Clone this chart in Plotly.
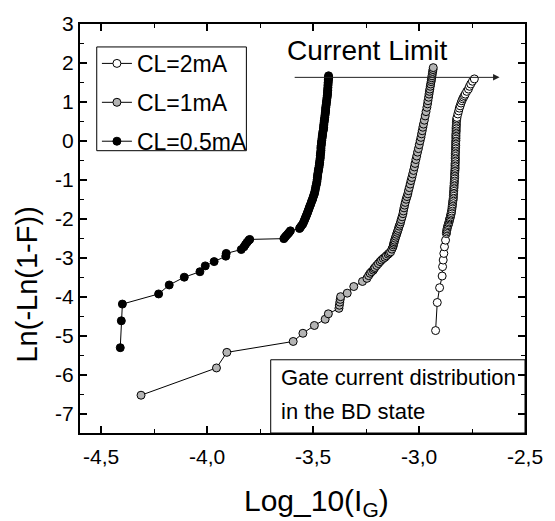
import plotly.graph_objects as go

# CL = 2 mA (open circles)
x_2ma = [-2.922, -2.914, -2.903, -2.891, -2.889, -2.886, -2.883, -2.880, -2.875,
         -2.871, -2.870, -2.869, -2.868, -2.866, -2.864, -2.862, -2.860, -2.858,
         -2.857, -2.855, -2.854, -2.852, -2.851, -2.849, -2.848, -2.846, -2.845,
         -2.844, -2.843, -2.842, -2.841, -2.840, -2.839, -2.838, -2.838, -2.837,
         -2.837, -2.836, -2.836, -2.835, -2.835, -2.834, -2.834, -2.833, -2.833,
         -2.832, -2.832, -2.832, -2.831, -2.831, -2.830, -2.830, -2.830, -2.830,
         -2.829, -2.829, -2.829, -2.829, -2.829, -2.829, -2.828, -2.828, -2.828,
         -2.827, -2.827, -2.827, -2.827, -2.826, -2.826, -2.826, -2.826, -2.826,
         -2.825, -2.825, -2.825, -2.825, -2.824, -2.824, -2.824, -2.823, -2.822,
         -2.821, -2.817, -2.813, -2.810, -2.806, -2.802, -2.798, -2.794, -2.790,
         -2.786, -2.782, -2.775, -2.767, -2.762, -2.756, -2.748, -2.739]
y_2ma = [-4.87, -4.15, -3.77, -3.47, -3.23, -3.06, -2.89, -2.72, -2.55,
         -2.38, -2.34, -2.30, -2.26, -2.22, -2.18, -2.15, -2.11, -2.08,
         -2.04, -2.01, -1.98, -1.95, -1.91, -1.88, -1.84, -1.80, -1.75,
         -1.70, -1.66, -1.62, -1.57, -1.53, -1.49, -1.45, -1.40, -1.36,
         -1.32, -1.28, -1.23, -1.19, -1.15, -1.10, -1.06, -1.02, -0.98,
         -0.94, -0.89, -0.85, -0.80, -0.76, -0.72, -0.68, -0.63, -0.59,
         -0.55, -0.50, -0.46, -0.42, -0.37, -0.33, -0.29, -0.25, -0.20,
         -0.16, -0.12, -0.08, -0.03, 0.01, 0.06, 0.10, 0.14, 0.18,
         0.23, 0.27, 0.31, 0.35, 0.39, 0.43, 0.48, 0.52, 0.56,
         0.60, 0.69, 0.77, 0.84, 0.90, 0.97, 1.03, 1.08, 1.12,
         1.16, 1.20, 1.27, 1.33, 1.40, 1.46, 1.53, 1.59]

# CL = 1 mA (grey circles)
x_1ma = [-4.312, -3.956, -3.907, -3.594, -3.548, -3.494, -3.443, -3.428, -3.378,
         -3.376, -3.374, -3.372, -3.370, -3.339, -3.308, -3.267, -3.246, -3.238,
         -3.231, -3.224, -3.216, -3.212, -3.208, -3.200, -3.192, -3.184, -3.177,
         -3.169, -3.161, -3.154, -3.146, -3.140, -3.134, -3.128, -3.123, -3.121,
         -3.119, -3.117,
         -3.115, -3.112, -3.109, -3.106, -3.103, -3.100, -3.097, -3.094, -3.090,
         -3.087, -3.084, -3.080, -3.076, -3.074, -3.071, -3.068, -3.065, -3.061,
         -3.057, -3.053, -3.050, -3.046, -3.042, -3.038, -3.034, -3.030, -3.026,
         -3.022, -3.019, -3.015, -3.011, -3.007, -3.003, -2.999, -2.995, -2.991,
         -2.988, -2.985, -2.982, -2.979, -2.975, -2.971, -2.967, -2.963, -2.960,
         -2.958, -2.955, -2.953, -2.951, -2.949, -2.947, -2.945, -2.943, -2.942,
         -2.940, -2.939, -2.937, -2.936, -2.934, -2.933]
y_1ma = [-6.53, -5.83, -5.43, -5.15, -4.94, -4.74, -4.58, -4.44, -4.30,
         -4.22, -4.14, -4.07, -4.00, -3.91, -3.74, -3.61, -3.53, -3.46,
         -3.40, -3.36, -3.32, -3.28, -3.25, -3.20, -3.15, -3.10, -3.06,
         -3.02, -2.99, -2.95, -2.91, -2.88, -2.85, -2.78, -2.72, -2.67,
         -2.63, -2.59,
         -2.55, -2.50, -2.45, -2.40, -2.35, -2.30, -2.25, -2.19, -2.14,
         -2.08, -2.02, -1.95, -1.87, -1.80, -1.72, -1.65, -1.58, -1.50,
         -1.43, -1.36, -1.28, -1.20, -1.11, -1.02, -0.94, -0.85, -0.76,
         -0.67, -0.58, -0.48, -0.39, -0.29, -0.20, -0.10, 0.00, 0.09,
         0.18, 0.26, 0.35, 0.43, 0.53, 0.64, 0.75, 0.86, 0.95,
         1.03, 1.12, 1.20, 1.27, 1.33, 1.40, 1.46, 1.52, 1.57,
         1.62, 1.67, 1.73, 1.78, 1.83, 1.88]

# CL = 0.5 mA (filled circles)
x_05ma = [-4.410, -4.405, -4.400, -4.229, -4.179, -4.108, -4.034, -4.009, -3.967,
          -3.912, -3.910, -3.839, -3.826, -3.819, -3.811, -3.803, -3.799,
          -3.638, -3.632, -3.626, -3.619, -3.613, -3.607,
          -3.564, -3.560, -3.555, -3.549, -3.545, -3.541, -3.538, -3.535, -3.532,
          -3.529, -3.526, -3.523, -3.520, -3.517, -3.514, -3.511, -3.508, -3.505,
          -3.502, -3.500, -3.497, -3.494, -3.492, -3.490, -3.488, -3.486, -3.484,
          -3.482, -3.481, -3.480, -3.479, -3.478, -3.476, -3.475, -3.474, -3.472,
          -3.471, -3.470, -3.469, -3.468, -3.467, -3.466, -3.466, -3.465, -3.464,
          -3.463, -3.463, -3.463, -3.462, -3.461, -3.460, -3.459, -3.458, -3.457,
          -3.456, -3.455, -3.454, -3.452, -3.451, -3.450, -3.450, -3.449, -3.448,
          -3.447, -3.446, -3.445, -3.444, -3.443, -3.442, -3.441, -3.441, -3.440,
          -3.439, -3.438, -3.437, -3.436, -3.435, -3.434, -3.433, -3.432, -3.432,
          -3.431, -3.431, -3.430, -3.430, -3.429, -3.429, -3.428, -3.428, -3.427,
          -3.427, -3.427]
y_05ma = [-5.31, -4.62, -4.19, -3.93, -3.70, -3.50, -3.36, -3.21, -3.10,
          -2.96, -2.89, -2.79, -2.72, -2.66, -2.60, -2.55, -2.53,
          -2.51, -2.47, -2.43, -2.39, -2.35, -2.31,
          -2.25, -2.22, -2.18, -2.14, -2.09, -2.04, -2.00, -1.96, -1.92,
          -1.88, -1.84, -1.79, -1.75, -1.70, -1.66, -1.62, -1.57, -1.53,
          -1.49, -1.45, -1.40, -1.36, -1.31, -1.26, -1.20, -1.15, -1.10,
          -1.05, -1.00, -0.95, -0.90, -0.85, -0.80, -0.76, -0.72, -0.68,
          -0.63, -0.59, -0.55, -0.50, -0.46, -0.42, -0.37, -0.33, -0.29,
          -0.25, -0.20, -0.16, -0.12, -0.08, -0.03, 0.01, 0.06, 0.10,
          0.14, 0.18, 0.23, 0.27, 0.31, 0.35, 0.39, 0.43, 0.48,
          0.52, 0.56, 0.60, 0.65, 0.69, 0.73, 0.77, 0.82, 0.86,
          0.90, 0.94, 0.99, 1.03, 1.08, 1.12, 1.16, 1.20, 1.25,
          1.29, 1.33, 1.37, 1.42, 1.46, 1.50, 1.54, 1.58, 1.61,
          1.64, 1.67]

assert len(x_2ma) == len(y_2ma)
assert len(x_1ma) == len(y_1ma)
assert len(x_05ma) == len(y_05ma)

x_tickvals = [-4.5, -4.0, -3.5, -3.0, -2.5]
x_ticktext = ["-4,5", "-4,0", "-3,5", "-3,0", "-2,5"]
y_tickvals = [-7, -6, -5, -4, -3, -2, -1, 0, 1, 2, 3]
y_ticktext = ["-7", "-6", "-5", "-4", "-3", "-2", "-1", "0", "1", "2", "3"]
x_minor = [-4.5 + 0.25 * i for i in range(9)]
y_minor = [-7.5 + 0.5 * i for i in range(22)]

FONT = "Liberation Sans, Arial, sans-serif"

fig = go.Figure()

series = [
    ("CL=2mA", x_2ma, y_2ma, "white"),
    ("CL=1mA", x_1ma, y_1ma, "#b4b4b4"),
    ("CL=0.5mA", x_05ma, y_05ma, "black"),
]
for name, xs, ys, fill in series:
    fig.add_trace(go.Scatter(
        x=xs, y=ys, mode="lines+markers", name=name, legendgroup=name,
        line=dict(color="black", width=1),
        marker=dict(symbol="circle", size=8, color=fill,
                    line=dict(color="black", width=1)),
    ))

# Legend frame (entries are placed by the legend itself)
fig.add_shape(type="rect", xref="paper", yref="paper",
              x0=17 / 452, x1=169 / 452, y0=1 - 127 / 410, y1=1 - 23 / 410,
              line=dict(color="black", width=1), fillcolor="white", layer="below")

# "Gate current distribution" frame in the lower-right corner
fig.add_shape(type="rect", xref="x", yref="y", x0=-3.70, x1=-2.5, y0=-7.5, y1=-5.62,
              line=dict(color="black", width=1), fillcolor="white", layer="below")
fig.add_annotation(x=-3.663, y=-6.08, xref="x", yref="y", text="Gate current distribution",
                   showarrow=False, xanchor="left", yanchor="middle",
                   font=dict(family=FONT, size=22, color="black"))
fig.add_annotation(x=-3.663, y=-6.94, xref="x", yref="y", text="in the BD state",
                   showarrow=False, xanchor="left", yanchor="middle",
                   font=dict(family=FONT, size=22, color="black"))

# Current-limit arrow and label
fig.add_annotation(x=-2.62, y=1.63, ax=-3.594, ay=1.63, xref="x", yref="y",
                   axref="x", ayref="y", text="", showarrow=True,
                   arrowhead=2, arrowsize=1.3, arrowwidth=1, arrowcolor="#222222")
fig.add_annotation(x=-3.245, y=2.33, xref="x", yref="y", text="Current Limit",
                   showarrow=False, font=dict(family=FONT, size=28, color="black"))

# Axis titles
fig.add_annotation(x=-0.117, y=0.38, xref="paper", yref="paper", text="Ln(-Ln(1-F))",
                   textangle=-90, showarrow=False, xshift=-19, yshift=-7,
                   font=dict(family=FONT, size=29, color="black"))
fig.add_annotation(x=0.522, y=-0.163, xref="paper", yref="paper",
                   text="Log_10(I<sub>G</sub>)", showarrow=False, xshift=4, yshift=-23,
                   font=dict(family=FONT, size=30, color="black"))

axis_common = dict(
    showgrid=False, zeroline=False, showline=True, linecolor="black", linewidth=2,
    mirror="allticks", ticks="inside", ticklen=7, tickwidth=1.5, tickcolor="black",
    tickfont=dict(family=FONT, size=21, color="black"), tickmode="array",
)
fig.update_xaxes(range=[-4.6, -2.5], tickvals=x_tickvals, ticktext=x_ticktext,
                 ticklabelstandoff=4,
                 minor=dict(tickmode="array", tickvals=x_minor, ticks="inside",
                            ticklen=4, tickwidth=1, tickcolor="black"),
                 **axis_common)
fig.update_yaxes(range=[-7.5, 3], tickvals=y_tickvals, ticktext=y_ticktext,
                 minor=dict(tickmode="array", tickvals=y_minor, ticks="inside",
                            ticklen=4, tickwidth=1, tickcolor="black"),
                 **axis_common)

fig.update_layout(
    width=555, height=521,
    margin=dict(l=80, r=23, t=23, b=88),
    paper_bgcolor="white", plot_bgcolor="white",
    font=dict(family=FONT, color="black"),
    showlegend=True,
    legend=dict(x=0.038, y=1 - 18 / 410, xanchor="left", yanchor="top",
                borderwidth=0, bgcolor="rgba(0,0,0,0)",
                font=dict(family=FONT, size=23, color="black"),
                traceorder="grouped", tracegroupgap=6),
)

fig.write_html("out.html")
